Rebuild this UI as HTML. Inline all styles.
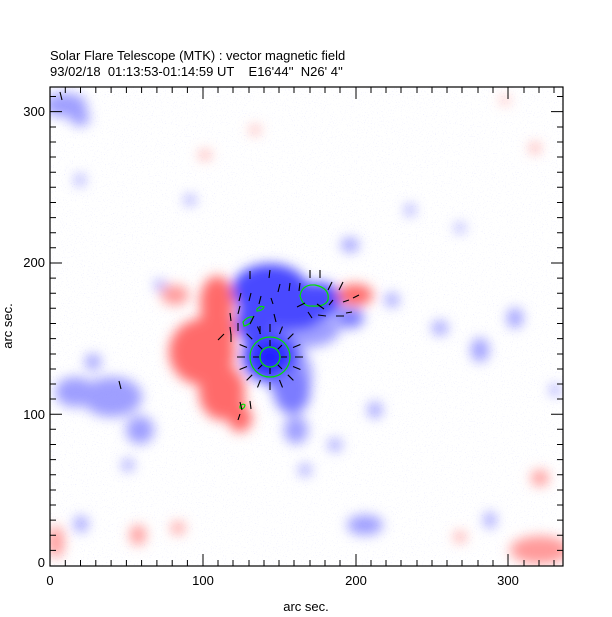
<!DOCTYPE html>
<html><head><meta charset="utf-8"><style>
html,body{margin:0;padding:0;background:#fff;}
svg{display:block;font-family:"Liberation Sans",sans-serif;}
</style></head><body>
<svg width="612" height="617" viewBox="0 0 612 617" xmlns="http://www.w3.org/2000/svg">
<defs>
<filter id="b6" x="-50%" y="-50%" width="200%" height="200%"><feGaussianBlur stdDeviation="6"/></filter>
<filter id="sp" x="0" y="0" width="100%" height="100%">
<feTurbulence type="fractalNoise" baseFrequency="0.9" numOctaves="1" seed="3"/>
<feColorMatrix type="matrix" values="0 0 0 0 0.8  0 0 0 0 0.8  0 0 0 0 1  9 0 0 0 -5.6"/>
</filter>
<clipPath id="c"><rect x="50" y="87" width="513" height="479"/></clipPath>
</defs>
<rect width="612" height="617" fill="#fff"/>
<g clip-path="url(#c)">
<rect x="50" y="87" width="513" height="479" filter="url(#sp)" opacity="0.6"/>
<g filter="url(#b6)">
<g fill="#7f7fff" opacity="0.75">
<ellipse cx="65" cy="105" rx="22" ry="12"/><ellipse cx="80" cy="118" rx="10" ry="8"/>
<ellipse cx="80" cy="180" rx="5" ry="6"/>
<ellipse cx="112" cy="397" rx="30" ry="20"/><ellipse cx="75" cy="392" rx="20" ry="15"/>
<ellipse cx="140" cy="430" rx="14" ry="14"/><ellipse cx="93" cy="362" rx="8" ry="8"/>
<ellipse cx="365" cy="525" rx="18" ry="10"/><ellipse cx="81" cy="524" rx="7" ry="8"/>
<ellipse cx="440" cy="328" rx="8" ry="7"/><ellipse cx="480" cy="350" rx="9" ry="12"/>
<ellipse cx="410" cy="210" rx="5" ry="6"/><ellipse cx="350" cy="245" rx="9" ry="7"/>
<ellipse cx="392" cy="300" rx="7" ry="7"/><ellipse cx="515" cy="318" rx="8" ry="10"/>
<ellipse cx="555" cy="390" rx="5" ry="6"/><ellipse cx="375" cy="410" rx="7" ry="8"/>
<ellipse cx="305" cy="470" rx="6" ry="6"/><ellipse cx="335" cy="445" rx="7" ry="6"/>
<ellipse cx="490" cy="520" rx="6" ry="8"/><ellipse cx="160" cy="285" rx="6" ry="5"/>
<ellipse cx="296" cy="430" rx="12" ry="14"/><ellipse cx="128" cy="465" rx="6" ry="6"/>
<ellipse cx="190" cy="200" rx="6" ry="5"/><ellipse cx="460" cy="228" rx="5" ry="5"/>
<ellipse cx="300" cy="330" rx="40" ry="18"/><ellipse cx="290" cy="375" rx="22" ry="30"/>
</g>
<g fill="#4a4aff">
<ellipse cx="270" cy="290" rx="38" ry="26"/><ellipse cx="318" cy="300" rx="24" ry="18"/>
<ellipse cx="254" cy="322" rx="18" ry="22"/><ellipse cx="290" cy="318" rx="30" ry="12"/>
<ellipse cx="270" cy="357" rx="28" ry="26"/>
</g>
<g fill="#7c7cff"><ellipse cx="292" cy="392" rx="18" ry="22"/><ellipse cx="350" cy="318" rx="14" ry="10"/></g>
<ellipse cx="270" cy="357" rx="16" ry="15" fill="#2020ff"/>
<g fill="#ff6b6b">
<ellipse cx="217" cy="302" rx="17" ry="26"/><ellipse cx="202" cy="352" rx="33" ry="33"/>
<ellipse cx="216" cy="330" rx="20" ry="22"/>
<ellipse cx="222" cy="392" rx="23" ry="28"/><ellipse cx="240" cy="418" rx="12" ry="14"/>
<ellipse cx="355" cy="295" rx="18" ry="11"/>
</g>
<g fill="#ff9a9a">
<ellipse cx="175" cy="295" rx="14" ry="10"/><ellipse cx="56" cy="542" rx="8" ry="16"/>
<ellipse cx="138" cy="535" rx="8" ry="10"/><ellipse cx="178" cy="528" rx="7" ry="6"/>
<ellipse cx="540" cy="478" rx="9" ry="8"/><ellipse cx="540" cy="550" rx="30" ry="14"/>
<ellipse cx="460" cy="537" rx="6" ry="5"/><ellipse cx="205" cy="155" rx="6" ry="4"/>
<ellipse cx="255" cy="130" rx="5" ry="4"/><ellipse cx="535" cy="148" rx="5" ry="5"/>
<ellipse cx="505" cy="100" rx="4" ry="4"/>
</g>
</g>
<g fill="none" stroke="#00e000" stroke-width="1.2">
<circle cx="270" cy="357" r="20"/><circle cx="270" cy="357" r="10"/>
<path d="M300 296 Q302 284 315 285 Q330 288 328 300 Q325 307 312 306 Q303 307 300 296Z"/>
<path d="M243 322 Q248 316 253 317 Q252 324 244 326Z"/>
<path d="M257 309 Q261 305 264 307 Q262 311 257 311Z"/>
<path d="M240 406 Q243 403 245 405 Q244 410 240 408Z"/>
</g>
<path stroke="#000" stroke-width="1.1" fill="none" d="
M295 357L303 357M293 366.5L300.4 369.5M287.8 374.8L293.4 380.4M279.5 380L282.5 387.4M270 382L270 390M260.5 380L257.5 387.4M252.2 374.8L246.6 380.4M247 366.5L239.6 369.5M245 357L237 357M247 347.5L239.6 344.5M252.2 339.2L246.6 333.6M260.5 334L257.5 326.6M270 332L270 324M279.5 334L282.5 326.6M287.8 339.2L293.4 333.6M293 347.5L300.4 344.5
M281 357L287 357M277.8 364.8L282 369M270 368L270 374M262.2 364.8L258 369M259 357L253 357M262.2 349.2L258 345M270 346L270 340M277.8 349.2L282 345
M250 271L250 279M270 270L269 278M310 270L310 278M320 270L320 278M280 284L278 292M290 283L289 291M300 283L299 291M332 282L328 290M343 282L339 290
M241 293L239 301M251 293L249 301M261 296L259 304M271 298L273 304M305 303L297 307M317 304L324 309M333 300L329 305M343 302L349 300M353 298L359 295
M240 306L238 314M254 316L250 324M274 314L276 322M308 312L312 318M318 315L326 316M336 316L344 316M346 313L352 312M230 313L231 321M230 327L231 335M218 340L224 334M231 334L231 342
M238 323L238 331M260 326L260 334M240 402L242 410M250 401L251 409M240 414L238 420M119 381L121 389M60 92L62 100"/>
</g>
<rect x="50" y="87" width="513" height="479" fill="none" stroke="#000" stroke-width="1.2"/>
<path stroke="#000" stroke-width="1" fill="none" d="
M50 566v-12M65.3 566v-6M80.5 566v-6M95.8 566v-6M111.1 566v-6M126.4 566v-6M141.6 566v-6M156.9 566v-6M172.2 566v-6M187.4 566v-6M203 566v-12M218 566v-6M233 566v-6M249 566v-6M264 566v-6M279 566v-6M294 566v-6M310 566v-6M325 566v-6M340 566v-6M356 566v-12M371 566v-6M386 566v-6M401 566v-6M417 566v-6M432 566v-6M447 566v-6M462 566v-6M478 566v-6M493 566v-6M508 566v-12M524 566v-6M539 566v-6M554 566v-6
M50 87v12M65.3 87v6M80.5 87v6M95.8 87v6M111.1 87v6M126.4 87v6M141.6 87v6M156.9 87v6M172.2 87v6M187.4 87v6M203 87v12M218 87v6M233 87v6M249 87v6M264 87v6M279 87v6M294 87v6M310 87v6M325 87v6M340 87v6M356 87v12M371 87v6M386 87v6M401 87v6M417 87v6M432 87v6M447 87v6M462 87v6M478 87v6M493 87v6M508 87v12M524 87v6M539 87v6M554 87v6
M50 550.4h6M50 535.3h6M50 520.1h6M50 505h6M50 490h6M50 474.7h6M50 459.6h6M50 444.5h6M50 429.3h6M50 414.2h12M50 399h6M50 384h6M50 369h6M50 354h6M50 338.6h6M50 323.5h6M50 308.3h6M50 293.2h6M50 278.1h6M50 263h12M50 247.8h6M50 232.7h6M50 217.6h6M50 202.5h6M50 187.3h6M50 172.2h6M50 157h6M50 142h6M50 127h6M50 111.6h12M50 96.5h6
M563 550.4h-6M563 535.3h-6M563 520.1h-6M563 505h-6M563 490h-6M563 474.7h-6M563 459.6h-6M563 444.5h-6M563 429.3h-6M563 414.2h-12M563 399h-6M563 384h-6M563 369h-6M563 354h-6M563 338.6h-6M563 323.5h-6M563 308.3h-6M563 293.2h-6M563 278.1h-6M563 263h-12M563 247.8h-6M563 232.7h-6M563 217.6h-6M563 202.5h-6M563 187.3h-6M563 172.2h-6M563 157h-6M563 142h-6M563 127h-6M563 111.6h-12M563 96.5h-6"/>
<g font-size="13" fill="#000">
<text x="50" y="60">Solar Flare Telescope (MTK) : vector magnetic field</text>
<text x="50" y="76" xml:space="preserve">93/02/18  01:13:53-01:14:59 UT    E16'44''  N26' 4''</text>
<text x="50" y="585" text-anchor="middle">0</text>
<text x="203" y="585" text-anchor="middle">100</text>
<text x="356" y="585" text-anchor="middle">200</text>
<text x="508" y="585" text-anchor="middle">300</text>
<text x="306" y="611" text-anchor="middle">arc sec.</text>
<text x="45" y="567" text-anchor="end">0</text>
<text x="45" y="419" text-anchor="end">100</text>
<text x="45" y="267" text-anchor="end">200</text>
<text x="45" y="116" text-anchor="end">300</text>
<text transform="translate(12,326) rotate(-90)" text-anchor="middle">arc sec.</text>
</g>
</svg>
</body></html>
